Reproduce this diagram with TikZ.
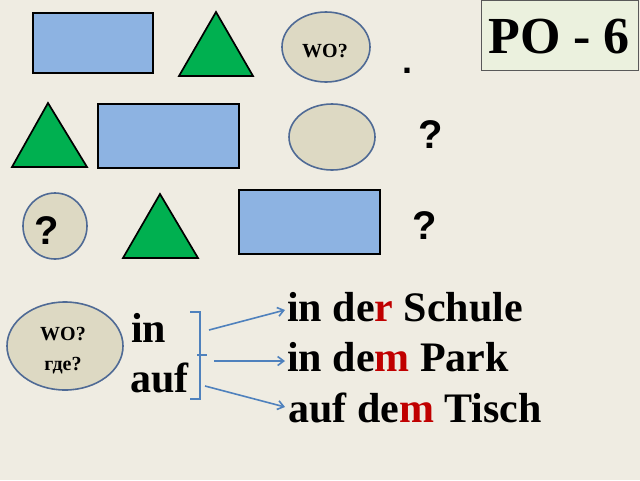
\documentclass[tikz,border=0pt]{standalone}
\usepackage{fontspec}
\setmainfont{Liberation Serif}
\newfontfamily\qsans{Liberation Sans}
\usetikzlibrary{arrows.meta}
\definecolor{bg}{HTML}{EFECE2}
\definecolor{rectblue}{HTML}{8DB3E2}
\definecolor{trigreen}{HTML}{00B050}
\definecolor{ellfill}{HTML}{DDD9C3}
\definecolor{ellline}{HTML}{4F6A95}
\definecolor{pofill}{HTML}{EBF1DE}
\definecolor{arrblue}{HTML}{4F81BD}
\definecolor{redtxt}{HTML}{C00000}
\tikzset{
  bluebox/.style={draw=black, line width=1.7pt, fill=rectblue},
  greentri/.style={draw=black, line width=1.7pt, fill=trigreen, line join=miter},
  oval/.style={draw=ellline, line width=1.6pt, fill=ellfill},
  qmark/.style={font=\qsans\bfseries\fontsize{40}{40}\selectfont, inner sep=0pt},
  bigword/.style={font=\bfseries\fontsize{42}{42}\selectfont, inner sep=0pt, anchor=base west},
  conn/.style={draw=arrblue, line width=1.6pt, -{Straight Barb[length=6pt,width=9pt]}},
}
\begin{document}
\begin{tikzpicture}[x=1pt,y=-1pt]
\fill[bg] (0,0) rectangle (640,480);
\useasboundingbox (0,0) rectangle (640,480);
% row 1
\draw[bluebox] (33,13) rectangle (153,73);
\draw[greentri] (216,12) -- (253,76) -- (179,76) -- cycle;
\draw[oval] (326,47) ellipse [x radius=44, y radius=35];
\node[font=\bfseries\fontsize{20}{20}\selectfont, inner sep=0pt, anchor=base] (wo1) at (325,57) {WO?};
\node[font=\qsans\bfseries\fontsize{36}{36}\selectfont, inner sep=0pt, anchor=base] (dot) at (407,73) {.};
\draw[draw=gray!70!black, line width=1pt, fill=pofill] (481,0) rectangle (638,70);
\node[font=\bfseries\fontsize{52}{52}\selectfont, inner sep=0pt] (po) at (559,37) {PO - 6};
% row 2
\draw[greentri] (48,103) -- (87,167) -- (12,167) -- cycle;
\draw[bluebox] (98,104) rectangle (239,168);
\draw[oval] (332,137) ellipse [x radius=43, y radius=33];
\node[qmark] (q2) at (431,134.5) {?};
% row 3
\draw[oval] (55,226) ellipse [x radius=32, y radius=33];
\node[qmark] (q3a) at (47,231) {?};
\draw[greentri] (160,194) -- (198,258) -- (123,258) -- cycle;
\draw[bluebox] (239,190) rectangle (380,254);
\node[qmark] (q3) at (425,226) {?};
% bottom
\draw[oval] (65,346) ellipse [x radius=58, y radius=44];
\node[font=\bfseries\fontsize{20}{30}\selectfont, align=center, inner sep=0pt, anchor=base] (wo2) at (63,370) {WO?\\где?};
\node[bigword] (in) at (131,342) {in};
\node[bigword] (auf) at (130,392) {auf};
\draw[arrblue, line width=1.8pt] (190,312) -- (200,312) -- (200,399) -- (190,399);
\draw[arrblue, line width=1.8pt] (197,355) -- (207,355);
\coordinate (a1s) at (209,330);
\coordinate (a2s) at (214,361);
\coordinate (a3s) at (205,386);
\node[bigword] (t1) at (287,321) {in de\textcolor{redtxt}{r} Schule};
\node[bigword] (t2) at (287,371) {in de\textcolor{redtxt}{m} Park};
\node[bigword] (t3) at (288,422) {auf de\textcolor{redtxt}{m} Tisch};
\coordinate (a1e) at (285,310);
\coordinate (a2e) at (285,361);
\coordinate (a3e) at (285,407);
\draw[conn] (a1s) -- (a1e);
\draw[conn] (a2s) -- (a2e);
\draw[conn] (a3s) -- (a3e);
\end{tikzpicture}
\end{document}
